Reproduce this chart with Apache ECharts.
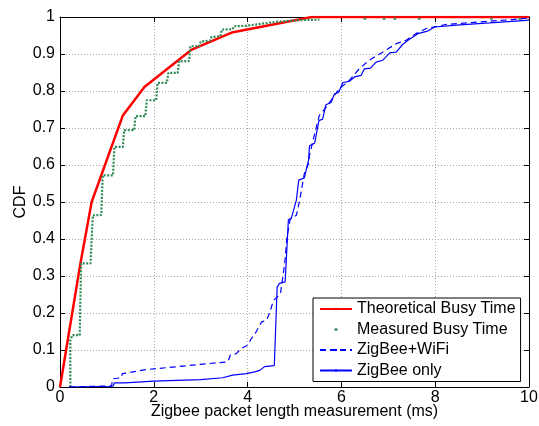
<!DOCTYPE html>
<html>
<head>
<meta charset="utf-8">
<script src="https://cdn.jsdelivr.net/npm/echarts@6/dist/echarts.min.js"></script>
<style>html,body{margin:0;padding:0;background:#fff;}#c{width:539px;height:426px;}</style>
</head>
<body>
<div id="c"></div>
<script>
var xTicks = [0, 2, 4, 6, 8, 10];
var yTickLabels = ['0','0.1','0.2','0.3','0.4','0.5','0.6','0.7','0.8','0.9','1'];

var theoretical = [[0,0],[0.43,0.33],[0.675,0.5],[1.34,0.734],[1.8,0.811],[2.81,0.912],[3.66,0.958],[5.37,1],[10,1]];

var measured = [[0.22,0],[0.22,0.125],[0.26,0.14],[0.42,0.14],[0.45,0.334],[0.65,0.334],[0.7,0.464],[0.88,0.465],
  [0.91,0.572],[1.13,0.572],[1.16,0.649],[1.34,0.649],[1.37,0.694],[1.58,0.694],[1.61,0.732],[1.82,0.732],
  [1.85,0.775],[2.05,0.775],[2.08,0.822],[2.28,0.822],[2.31,0.849],[2.51,0.849],[2.54,0.881],[2.75,0.881],
  [2.78,0.921],[2.97,0.921],[3.0,0.934],[3.2,0.936],[3.23,0.946],[3.42,0.948],[3.45,0.966],[3.68,0.967],
  [3.71,0.975],[3.93,0.976],[3.96,0.98],[4.26,0.981],[4.61,0.987],[5.04,0.991],[5.53,0.993]];
var measuredOutliers = [[6.5,0.995],[6.91,0.995],[7.14,0.995],[7.66,0.995],[9.2,0.995],[9.8,0.995]];

var zigbeeWifi = [[0.2,0],[1.1,0.003],[1.12,0.022],[1.3,0.025],[1.33,0.036],[1.52,0.04],[1.84,0.047],[2.26,0.052],
  [2.97,0.061],[3.58,0.068],[3.63,0.086],[3.76,0.09],[3.86,0.104],[4.0,0.113],[4.08,0.131],[4.16,0.144],
  [4.3,0.176],[4.4,0.18],[4.47,0.2],[4.55,0.234],[4.63,0.243],[4.7,0.252],[4.79,0.333],[4.84,0.405],
  [4.91,0.455],[5.04,0.464],[5.11,0.505],[5.16,0.54],[5.21,0.577],[5.3,0.604],[5.32,0.626],[5.43,0.685],
  [5.53,0.734],[5.68,0.757],[5.85,0.788],[5.96,0.806],[6.17,0.829],[6.38,0.86],[6.59,0.883],[6.88,0.905],
  [7.17,0.928],[7.38,0.937],[7.59,0.955],[7.81,0.969],[8.24,0.98],[8.87,0.986],[9.65,0.993],[10,0.997]];

var zigbeeOnly = [[0.2,0],[1.13,0.002],[1.16,0.011],[1.38,0.011],[1.4,0.014],[2.0,0.016],[3.0,0.02],[3.47,0.025],
  [3.68,0.032],[3.97,0.036],[4.15,0.041],[4.26,0.045],[4.36,0.055],[4.57,0.058],[4.61,0.2],[4.63,0.27],
  [4.68,0.28],[4.8,0.284],[4.87,0.452],[4.93,0.455],[5.04,0.505],[5.09,0.559],[5.21,0.565],[5.3,0.613],
  [5.32,0.652],[5.43,0.659],[5.52,0.72],[5.6,0.724],[5.67,0.763],[5.78,0.769],[5.85,0.792],[5.94,0.796],
  [6.03,0.823],[6.17,0.826],[6.28,0.838],[6.42,0.842],[6.49,0.86],[6.62,0.862],[6.74,0.878],[6.88,0.883],
  [7.03,0.903],[7.17,0.905],[7.3,0.925],[7.42,0.937],[7.63,0.955],[7.84,0.962],[7.99,0.973],[8.45,0.978],
  [9.16,0.984],[9.94,0.991],[10,0.992]];

var FONT = 'Liberation Sans';
var chart = echarts.init(document.getElementById('c'), null, {renderer: 'canvas'});

function baseX(pos, showLabels) {
  return {
    type: 'value', position: pos, min: 0, max: 10, interval: 2,
    axisLine: {show: true, onZero: false, lineStyle: {color: '#000', width: 1}},
    axisTick: {show: true, inside: true, length: 5, lineStyle: {color: '#000'}},
    axisLabel: {show: showLabels, color: '#000', fontFamily: FONT, fontSize: 16, margin: 3,
      formatter: function (v) { return xTicks.indexOf(v) >= 0 ? String(v) : ''; }},
    splitLine: {show: showLabels, lineStyle: {color: '#aaa', type: [1, 2], width: 1}}
  };
}
function baseY(pos, showLabels) {
  return {
    type: 'value', position: pos, min: 0, max: 1, interval: 0.1,
    axisLine: {show: true, onZero: false, lineStyle: {color: '#000', width: 1}},
    axisTick: {show: true, inside: true, length: 5, lineStyle: {color: '#000'}},
    axisLabel: {show: showLabels, color: '#000', fontFamily: FONT, fontSize: 16, margin: 5,
      formatter: function (v) { return yTickLabels[Math.round(v * 10)]; }},
    splitLine: {show: showLabels, lineStyle: {color: '#aaa', type: [1, 2], width: 1}}
  };
}

var xMain = baseX('bottom', true);
xMain.name = 'Zigbee packet length measurement (ms)';
xMain.nameLocation = 'middle';
xMain.nameGap = 17;
xMain.nameMoveOverlap = false;
xMain.nameTextStyle = {color: '#000', fontFamily: FONT, fontSize: 16, verticalAlign: 'top'};
var yMain = baseY('left', true);
yMain.name = 'CDF';
yMain.nameLocation = 'middle';
yMain.nameGap = 31;
yMain.nameMoveOverlap = false;
yMain.nameTextStyle = {color: '#000', fontFamily: FONT, fontSize: 16};

chart.setOption({
  animation: false,
  backgroundColor: '#fff',
  grid: {left: 60, right: 10, top: 17, bottom: 39, containLabel: false, outerBoundsMode: 'none'},
  xAxis: [xMain, baseX('top', false)],
  yAxis: [yMain, baseY('right', false)],
  legend: {
    orient: 'vertical', left: 313, top: 298,
    backgroundColor: '#fff', borderColor: '#000', borderWidth: 1,
    padding: [2, 5, 2, 6], itemGap: 2.5, itemWidth: 32, itemHeight: 3,
    textStyle: {color: '#000', fontFamily: FONT, fontSize: 16, lineHeight: 18},
    data: [
      {name: 'Theoretical Busy Time'},
      {name: 'Measured Busy Time', icon: 'circle'},
      {name: 'ZigBee+WiFi'},
      {name: 'ZigBee only'}
    ]
  },
  series: [
    {name: 'Theoretical Busy Time', type: 'line', data: theoretical, symbol: 'none',
      lineStyle: {color: '#ff0000', width: 2.5}, itemStyle: {color: '#ff0000'}, z: 2},
    {name: 'Measured Busy Time', type: 'line', data: measured, symbol: 'none',
      lineStyle: {color: '#2e8b57', width: 2.2, type: [2, 1.5]}, itemStyle: {color: '#2e8b57'}, z: 3},
    {name: 'Measured Busy Time', type: 'scatter', data: measuredOutliers, symbol: 'circle', symbolSize: 3,
      itemStyle: {color: '#2e8b57'}, z: 3},
    {name: 'ZigBee+WiFi', type: 'line', data: zigbeeWifi, symbol: 'none',
      lineStyle: {color: '#0000ff', width: 1.2, type: [6, 4]}, itemStyle: {color: '#0000ff'}, z: 4},
    {name: 'ZigBee only', type: 'line', data: zigbeeOnly, symbol: 'none',
      lineStyle: {color: '#0000ff', width: 1.2}, itemStyle: {color: '#0000ff'}, z: 5}
  ]
});
</script>
</body>
</html>
